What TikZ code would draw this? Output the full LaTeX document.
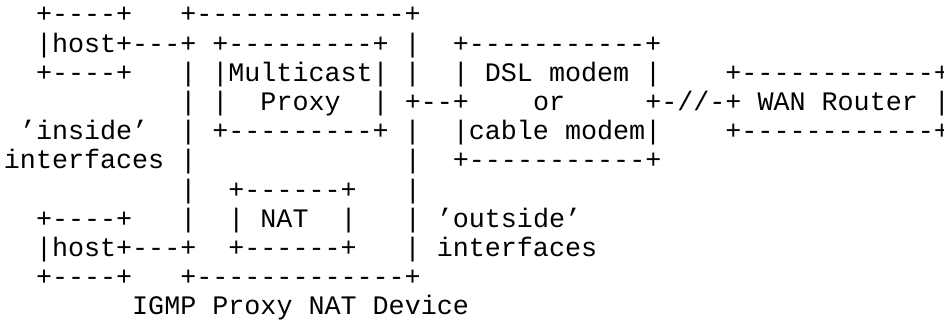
\documentclass[tikz,border=0pt]{standalone}
\usepackage{fontspec}
\setmonofont{Liberation Mono}
\tikzset{asciirow/.style={
    anchor=base west,
    inner sep=0pt,
    outer sep=0pt,
    font=\ttfamily\fontsize{13.36pt}{14.6pt}\selectfont
}}

\begin{document}
\begin{tikzpicture}[x=8.015pt,y=14.6pt]
    \useasboundingbox (0,0) rectangle (472pt,-160pt);
    % one node per text row, columns kept by the mono font
    \begin{scope}[shift={(1.97pt,-11.5pt)}]
        \node[asciirow] (l1) at (0,0) {~~+----+~~~+-------------+};
        \node[asciirow] (l2) at (0,-1) {~~|host+---+~+---------+~|~~+-----------+};
        \node[asciirow] (l3) at (0,-2) {~~+----+~~~|~|Multicast|~|~~|~DSL~modem~|~~~~+------------+};
        \node[asciirow] (l4) at (0,-3) {~~~~~~~~~~~|~|~~Proxy~~|~+--+~~~~or~~~~~+-//-+~WAN~Router~|};
        \node[asciirow] (l5) at (0,-4) {~’inside’~~|~+---------+~|~~|cable~modem|~~~~+------------+};
        \node[asciirow] (l6) at (0,-5) {interfaces~|~~~~~~~~~~~~~|~~+-----------+};
        \node[asciirow] (l7) at (0,-6) {~~~~~~~~~~~|~~+------+~~~|};
        \node[asciirow] (l8) at (0,-7) {~~+----+~~~|~~|~NAT~~|~~~|~’outside’};
        \node[asciirow] (l9) at (0,-8) {~~|host+---+~~+------+~~~|~interfaces};
        \node[asciirow] (l10) at (0,-9) {~~+----+~~~+-------------+};
        \node[asciirow] (l11) at (0,-10) {~~~~~~~~IGMP~Proxy~NAT~Device};
    \end{scope}
\end{tikzpicture}
\end{document}
